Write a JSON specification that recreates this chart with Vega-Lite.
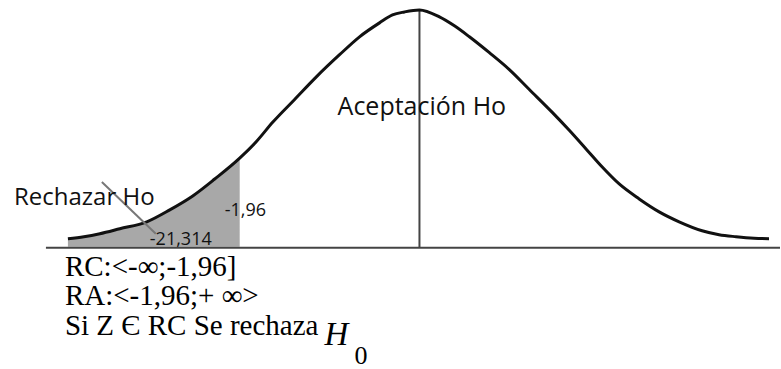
{
  "$schema": "https://vega.github.io/schema/vega-lite/v6.json",
  "width": 781,
  "height": 369,
  "autosize": {"type": "fit", "contains": "padding"},
  "padding": 0,
  "background": "white",
  "config": {"view": {"stroke": null}},
  "datasets": {
    "curve": [
      {"x": 68, "y": 240}, {"x": 84, "y": 238}, {"x": 100, "y": 235}, {"x": 120, "y": 230},
      {"x": 147, "y": 223}, {"x": 170, "y": 211}, {"x": 193, "y": 197}, {"x": 215, "y": 180},
      {"x": 240, "y": 159}, {"x": 257, "y": 142}, {"x": 273, "y": 123}, {"x": 295, "y": 100},
      {"x": 317, "y": 77}, {"x": 340, "y": 55}, {"x": 360, "y": 37}, {"x": 380, "y": 23},
      {"x": 393, "y": 15}, {"x": 405, "y": 12}, {"x": 420, "y": 10}, {"x": 440, "y": 17},
      {"x": 455, "y": 26}, {"x": 470, "y": 37}, {"x": 490, "y": 53}, {"x": 510, "y": 70},
      {"x": 530, "y": 90}, {"x": 553, "y": 113}, {"x": 570, "y": 131}, {"x": 587, "y": 150},
      {"x": 603, "y": 168}, {"x": 620, "y": 185}, {"x": 640, "y": 200}, {"x": 660, "y": 213},
      {"x": 680, "y": 223}, {"x": 703, "y": 232}, {"x": 720, "y": 236}, {"x": 737, "y": 238},
      {"x": 755, "y": 239.5}, {"x": 770, "y": 240}
    ],
    "shade": [
      {"x": 68, "y": 240, "base": 248}, {"x": 84, "y": 238, "base": 248}, {"x": 100, "y": 235, "base": 248},
      {"x": 120, "y": 230, "base": 248}, {"x": 147, "y": 223, "base": 248}, {"x": 170, "y": 211, "base": 248},
      {"x": 193, "y": 197, "base": 248}, {"x": 215, "y": 180, "base": 248}, {"x": 240, "y": 159, "base": 248}
    ],
    "rules": [
      {"x": 46, "y": 249, "x2": 781, "y2": 249},
      {"x": 420, "y": 10, "x2": 420, "y2": 249}
    ],
    "pointer": [
      {"x": 102, "y": 183, "x2": 156, "y2": 235}
    ],
    "sans": [
      {"x": 14, "y": 206, "label": "Rechazar Ho", "size": 24},
      {"x": 338, "y": 116, "label": "Aceptación Ho", "size": 25},
      {"x": 225, "y": 217, "label": "-1,96", "size": 18},
      {"x": 150, "y": 246, "label": "-21,314", "size": 18}
    ],
    "serif": [
      {"x": 65, "y": 278, "label": "RC:<-∞;-1,96]"},
      {"x": 65, "y": 307, "label": "RA:<-1,96;+ ∞>"},
      {"x": 65, "y": 337, "label": "Si Z Є RC Se rechaza"}
    ],
    "hsym": [{"x": 325, "y": 347, "label": "H"}],
    "hsub": [{"x": 355, "y": 366, "label": "0"}]
  },
  "encoding": {
    "x": {"field": "x", "type": "quantitative", "scale": {"domain": [0, 781], "nice": false, "zero": false}, "axis": null},
    "y": {"field": "y", "type": "quantitative", "scale": {"domain": [0, 369], "nice": false, "zero": false, "reverse": true}, "axis": null}
  },
  "layer": [
    {
      "data": {"name": "shade"},
      "mark": {"type": "area", "color": "#a8a8a8", "interpolate": "monotone", "opacity": 1},
      "encoding": {"y2": {"field": "base"}}
    },
    {
      "data": {"name": "rules"},
      "mark": {"type": "rule", "color": "#444", "strokeWidth": 2},
      "encoding": {"x2": {"field": "x2"}, "y2": {"field": "y2"}}
    },
    {
      "data": {"name": "curve"},
      "mark": {"type": "line", "color": "#111", "strokeWidth": 3, "interpolate": "monotone"},
      "encoding": {"order": {"field": "x", "type": "quantitative"}}
    },
    {
      "data": {"name": "pointer"},
      "mark": {"type": "rule", "color": "#777", "strokeWidth": 2},
      "encoding": {"x2": {"field": "x2"}, "y2": {"field": "y2"}}
    },
    {
      "data": {"name": "sans"},
      "mark": {"type": "text", "align": "left", "baseline": "alphabetic", "font": "Open Sans", "color": "#111"},
      "encoding": {"text": {"field": "label"}, "size": {"field": "size", "type": "quantitative", "scale": null}}
    },
    {
      "data": {"name": "serif"},
      "mark": {"type": "text", "align": "left", "baseline": "alphabetic", "font": "Liberation Serif", "fontSize": 29, "color": "#000"},
      "encoding": {"text": {"field": "label"}}
    },
    {
      "data": {"name": "hsym"},
      "mark": {"type": "text", "align": "left", "baseline": "alphabetic", "font": "Liberation Serif", "fontStyle": "italic", "fontSize": 33, "color": "#000"},
      "encoding": {"text": {"field": "label"}}
    },
    {
      "data": {"name": "hsub"},
      "mark": {"type": "text", "align": "left", "baseline": "alphabetic", "font": "Liberation Serif", "fontSize": 26, "color": "#000"},
      "encoding": {"text": {"field": "label"}}
    }
  ]
}
